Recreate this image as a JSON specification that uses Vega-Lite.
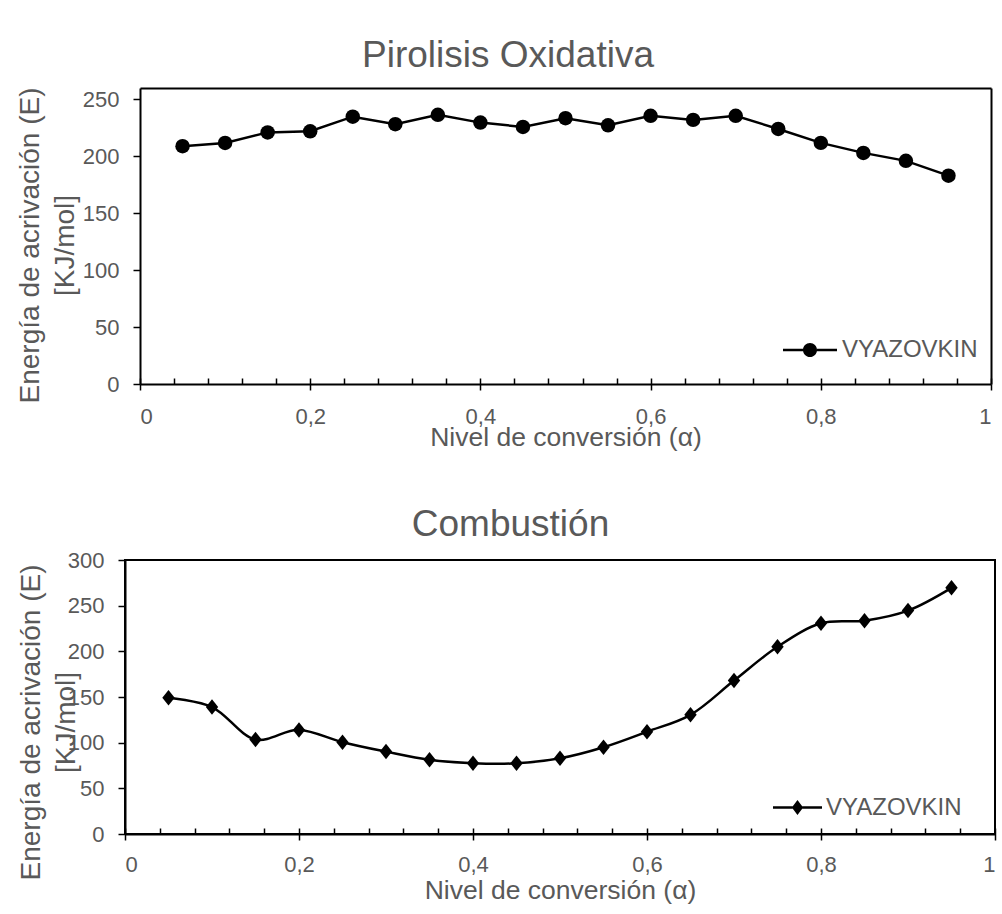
{
  "$schema": "https://vega.github.io/schema/vega-lite/v6.json",
  "background": "white",
  "padding": {"left": 16, "top": 37, "right": 0, "bottom": 0},
  "columns": 1,
  "spacing": 54,
  "resolve": {"scale": {"color": "independent"}, "legend": {"color": "independent"}},
  "config": {
    "font": "Liberation Sans",
    "view": {"stroke": "black", "strokeWidth": 2},
    "axis": {
      "grid": false,
      "labelFont": "Liberation Sans",
      "labelFontSize": 22,
      "labelColor": "#595959",
      "titleFont": "Liberation Sans",
      "titleFontWeight": "normal",
      "titleColor": "#595959",
      "domainColor": "black",
      "domainWidth": 2,
      "tickColor": "black",
      "tickWidth": 1.5
    },
    "title": {"font": "Liberation Sans", "fontSize": 37, "fontWeight": "normal", "color": "#595959", "anchor": "middle", "frame": "bounds", "dx": 4, "baseline": "alphabetic"}
  },
  "datasets": {
    "pirolisis": [
      {"alpha": 0.05, "E": 208.9, "serie": "VYAZOVKIN"},
      {"alpha": 0.1, "E": 211.7, "serie": "VYAZOVKIN"},
      {"alpha": 0.15, "E": 221, "serie": "VYAZOVKIN"},
      {"alpha": 0.2, "E": 222, "serie": "VYAZOVKIN"},
      {"alpha": 0.25, "E": 234.8, "serie": "VYAZOVKIN"},
      {"alpha": 0.3, "E": 228.2, "serie": "VYAZOVKIN"},
      {"alpha": 0.35, "E": 236.5, "serie": "VYAZOVKIN"},
      {"alpha": 0.4, "E": 229.6, "serie": "VYAZOVKIN"},
      {"alpha": 0.45, "E": 225.8, "serie": "VYAZOVKIN"},
      {"alpha": 0.5, "E": 233.5, "serie": "VYAZOVKIN"},
      {"alpha": 0.55, "E": 227.2, "serie": "VYAZOVKIN"},
      {"alpha": 0.6, "E": 235.6, "serie": "VYAZOVKIN"},
      {"alpha": 0.65, "E": 232, "serie": "VYAZOVKIN"},
      {"alpha": 0.7, "E": 235.6, "serie": "VYAZOVKIN"},
      {"alpha": 0.75, "E": 224, "serie": "VYAZOVKIN"},
      {"alpha": 0.8, "E": 211.8, "serie": "VYAZOVKIN"},
      {"alpha": 0.85, "E": 203, "serie": "VYAZOVKIN"},
      {"alpha": 0.9, "E": 196, "serie": "VYAZOVKIN"},
      {"alpha": 0.95, "E": 183, "serie": "VYAZOVKIN"}
    ],
    "combustion": [
      {"alpha": 0.05, "E": 149.3, "serie": "VYAZOVKIN"},
      {"alpha": 0.1, "E": 139, "serie": "VYAZOVKIN"},
      {"alpha": 0.15, "E": 103.5, "serie": "VYAZOVKIN"},
      {"alpha": 0.2, "E": 114, "serie": "VYAZOVKIN"},
      {"alpha": 0.25, "E": 100.5, "serie": "VYAZOVKIN"},
      {"alpha": 0.3, "E": 90.2, "serie": "VYAZOVKIN"},
      {"alpha": 0.35, "E": 81.3, "serie": "VYAZOVKIN"},
      {"alpha": 0.4, "E": 77.5, "serie": "VYAZOVKIN"},
      {"alpha": 0.45, "E": 77.4, "serie": "VYAZOVKIN"},
      {"alpha": 0.5, "E": 82.9, "serie": "VYAZOVKIN"},
      {"alpha": 0.55, "E": 95, "serie": "VYAZOVKIN"},
      {"alpha": 0.6, "E": 112, "serie": "VYAZOVKIN"},
      {"alpha": 0.65, "E": 130.5, "serie": "VYAZOVKIN"},
      {"alpha": 0.7, "E": 168, "serie": "VYAZOVKIN"},
      {"alpha": 0.75, "E": 205, "serie": "VYAZOVKIN"},
      {"alpha": 0.8, "E": 230.7, "serie": "VYAZOVKIN"},
      {"alpha": 0.85, "E": 233.6, "serie": "VYAZOVKIN"},
      {"alpha": 0.9, "E": 244.6, "serie": "VYAZOVKIN"},
      {"alpha": 0.95, "E": 269.5, "serie": "VYAZOVKIN"}
    ]
  },
  "concat": [
    {
      "width": 866,
      "height": 296,
      "view": {"stroke": null},
      "title": {"text": "Pirolisis Oxidativa", "offset": 12},
      "data": {"name": "pirolisis"},
      "resolve": {"axis": {"x": "independent", "y": "independent"}},
      "layer": [
        {
          "mark": {"type": "line", "color": "black", "strokeWidth": 2.5},
          "encoding": {
            "x": {"field": "alpha", "type": "quantitative", "scale": {"domain": [0, 1], "range": [15, 866]},
              "axis": {"orient": "bottom", "values": [0, 0.2, 0.4, 0.6, 0.8, 1], "format": "~g", "labelExpr": "replace(datum.label, '.', ',')",
                "tickSize": 6, "labelPadding": 16, "title": "Nivel de conversión (α)", "titleFontSize": 26.5, "titlePadding": -3}},
            "y": {"field": "E", "type": "quantitative", "scale": {"domain": [0, 250]},
              "axis": {"orient": "left", "offset": -15, "values": [0, 50, 100, 150, 200, 250], "tickSize": 7, "labelPadding": 14,
                "title": ["Energía de acrivación (E)", "[KJ/mol]"], "titleFontSize": 28, "titleLineHeight": 35, "titlePadding": 3, "titleY": 157}}
          }
        },
        {
          "mark": {"type": "point", "shape": "circle", "filled": true, "size": 210, "opacity": 1, "strokeWidth": 0},
          "encoding": {
            "x": {"field": "alpha", "type": "quantitative",
              "axis": {"orient": "bottom", "values": [0, 0.04, 0.08, 0.12, 0.16, 0.2, 0.24, 0.28, 0.32, 0.36, 0.4, 0.44, 0.48, 0.52, 0.56, 0.6, 0.64, 0.68, 0.72, 0.76, 0.8, 0.84, 0.88, 0.92, 0.96, 1],
                "tickSize": -6, "labels": false, "domain": false, "title": null}},
            "y": {"field": "E", "type": "quantitative", "axis": null},
            "color": {"field": "serie", "type": "nominal", "scale": {"range": ["black"]},
              "legend": {"title": null, "orient": "none", "legendX": 658, "legendY": 235, "padding": 0,
                "symbolType": "M-1,-0.045L-0.26,-0.045L-0.26,0.045L-1,0.045Z M0.26,-0.045L1,-0.045L1,0.045L0.26,0.045Z M0.26,0A0.26,0.26 0 1 1 -0.26,0A0.26,0.26 0 1 1 0.26,0Z",
                "symbolSize": 2916, "symbolStrokeWidth": 0, "symbolOpacity": 1, "symbolFillColor": "black",
                "labelFont": "Liberation Sans", "labelFontSize": 24, "labelColor": "#595959", "labelOffset": 5}}
          }
        },
        {
          "mark": {"type": "point", "opacity": 0},
          "encoding": {
            "x": {"field": "alpha", "type": "quantitative",
              "axis": {"orient": "top", "ticks": false, "labels": false, "domain": true, "title": null}},
            "y": {"field": "E", "type": "quantitative",
              "axis": {"orient": "right", "ticks": false, "labels": false, "domain": true, "title": null}}
          }
        }
      ]
    },
    {
      "width": 870,
      "height": 274,
      "title": {"text": "Combustión", "offset": 5},
      "data": {"name": "combustion"},
      "resolve": {"axis": {"x": "independent"}},
      "layer": [
        {
          "mark": {"type": "line", "color": "black", "strokeWidth": 2.5, "interpolate": "catmull-rom"},
          "encoding": {
            "x": {"field": "alpha", "type": "quantitative", "scale": {"domain": [0, 1]},
              "axis": {"orient": "bottom", "values": [0, 0.2, 0.4, 0.6, 0.8, 1], "format": "~g", "labelExpr": "replace(datum.label, '.', ',')",
                "tickSize": 6, "labelPadding": 14, "title": "Nivel de conversión (α)", "titleFontSize": 26.5, "titlePadding": 2}},
            "y": {"field": "E", "type": "quantitative", "scale": {"domain": [0, 300]},
              "axis": {"values": [0, 50, 100, 150, 200, 250, 300], "tickSize": 7, "labelPadding": 14,
                "title": ["Energía de acrivación (E)", "[KJ/mol]"], "titleFontSize": 28, "titleLineHeight": 35, "titlePadding": -13, "titleY": 162}}
          }
        },
        {
          "mark": {"type": "point", "shape": "M0,-1L0.8,0L0,1L-0.8,0Z", "filled": true, "size": 240, "opacity": 1, "strokeWidth": 0},
          "encoding": {
            "x": {"field": "alpha", "type": "quantitative",
              "axis": {"orient": "bottom", "values": [0, 0.04, 0.08, 0.12, 0.16, 0.2, 0.24, 0.28, 0.32, 0.36, 0.4, 0.44, 0.48, 0.52, 0.56, 0.6, 0.64, 0.68, 0.72, 0.76, 0.8, 0.84, 0.88, 0.92, 0.96, 1],
                "tickSize": -6, "labels": false, "domain": false, "title": null}},
            "y": {"field": "E", "type": "quantitative"},
            "color": {"field": "serie", "type": "nominal", "scale": {"range": ["black"]},
              "legend": {"title": null, "orient": "none", "legendX": 648, "legendY": 223, "padding": 0,
                "symbolType": "M-1,-0.05L-0.2,-0.05L-0.2,0.05L-1,0.05Z M0.2,-0.05L1,-0.05L1,0.05L0.2,0.05Z M0,-0.31L0.23,0L0,0.31L-0.23,0Z",
                "symbolSize": 2401, "symbolStrokeWidth": 0, "symbolOpacity": 1, "symbolFillColor": "black",
                "labelFont": "Liberation Sans", "labelFontSize": 24, "labelColor": "#595959", "labelOffset": 4}}
          }
        }
      ]
    }
  ]
}
